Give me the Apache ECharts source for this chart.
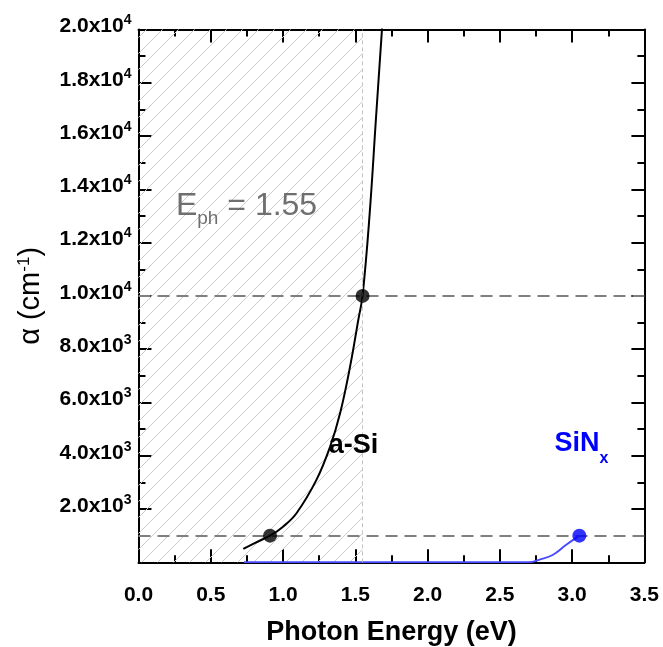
<!DOCTYPE html>
<html>
<head>
<meta charset="utf-8">
<script src="https://cdn.jsdelivr.net/npm/echarts@6/dist/echarts.min.js"></script>
<style>
  html, body { margin: 0; padding: 0; background: #fff; }
  #chart { width: 663px; height: 647px; }
</style>
</head>
<body>
<div id="chart"></div>
<script>
// a-Si absorption curve (eV, cm^-1)
const aSiEnergy = [0.725, 0.80, 0.91, 1.00, 1.093, 1.231, 1.326, 1.395, 1.464, 1.521, 1.55, 1.598, 1.644, 1.685];
const aSiAlpha = [500, 714, 1000, 1338, 1842, 3094, 4346, 5602, 7353, 9109, 10000, 12992, 16752, 20050];
// SiNx curve
const sinEnergy = [0.73, 2.70, 2.78, 2.865, 2.957, 3.05];
const sinAlpha = [0, 0, 110, 274, 650, 1000];
// highlighted points
const aSiDotEnergy = [0.91, 1.55];
const aSiDotAlpha = [1000, 10000];
const sinDotEnergy = [3.05];
const sinDotAlpha = [1000];
// reference lines
const refAlpha = [1000, 10000];
const photonEnergy = 1.55;

const chart = echarts.init(document.getElementById('chart'));

// hatch pattern for the E < Eph region
function hatch() {
  const s = 16;
  const c = document.createElement('canvas');
  c.width = s; c.height = s;
  const ctx = c.getContext('2d');
  ctx.strokeStyle = '#cbcbcb';
  ctx.lineWidth = 1;
  ctx.beginPath();
  ctx.moveTo(-2, s + 2); ctx.lineTo(s + 2, -2);
  ctx.moveTo(-2, 2); ctx.lineTo(2, -2);
  ctx.moveTo(s - 2, s + 2); ctx.lineTo(s + 2, s - 2);
  ctx.stroke();
  return c;
}

const font = 'Liberation Sans';
const bold = { fontFamily: font, fontWeight: 'bold', color: '#000' };
const axisLine = { show: true, onZero: false, lineStyle: { color: '#000', width: 2 } };
const tick = { show: true, inside: true, length: 13, lineStyle: { color: '#000', width: 2 } };
const minor = { show: true, splitNumber: 2, length: 7, lineStyle: { color: '#000', width: 2 } };

function yLabel(v) {
  if (v === 0) return '';
  const e = Math.floor(Math.log10(v) + 1e-9);
  return '{a|' + (v / Math.pow(10, e)).toFixed(1) + 'x10}{s|' + e + '}';
}

const xBase = {
  type: 'value', min: 0, max: 3.5, interval: 0.5,
  axisLine: axisLine, axisTick: tick, minorTick: minor,
  splitLine: { show: false }, minorSplitLine: { show: false }
};
const yBase = {
  type: 'value', min: 0, max: 20000, interval: 2000,
  axisLine: axisLine, axisTick: tick, minorTick: minor,
  splitLine: { show: false }, minorSplitLine: { show: false }
};

const option = {
  animation: false,
  backgroundColor: '#fff',
  grid: { left: 138.5, right: 18.6, top: 29.5, bottom: 84.7, outerBoundsMode: 'none' },
  xAxis: [
    Object.assign({}, xBase, {
      position: 'bottom',
      name: 'Photon Energy (eV)', nameLocation: 'middle', nameGap: 57, nameMoveOverlap: false,
      nameTextStyle: Object.assign({ fontSize: 27 }, bold),
      axisLabel: Object.assign({ fontSize: 21, margin: 22, formatter: v => v.toFixed(1) }, bold)
    }),
    Object.assign({}, xBase, { position: 'top', axisLabel: { show: false } })
  ],
  yAxis: [
    Object.assign({}, yBase, {
      position: 'left',
      name: '{a|α (cm}{s|-1}{a|)}', nameLocation: 'middle', nameGap: 93, nameMoveOverlap: false,
      nameTextStyle: {
        rich: {
          a: { fontFamily: font, fontSize: 29, lineHeight: 30, color: '#000' },
          s: { fontFamily: font, fontSize: 17, lineHeight: 17, verticalAlign: 'top', color: '#000' }
        }
      },
      axisLabel: {
        margin: 7, formatter: yLabel, showMaxLabel: true, padding: [0, 0, 6, 0],
        rich: {
          a: Object.assign({ fontSize: 21, lineHeight: 26 }, bold),
          s: Object.assign({ fontSize: 14, lineHeight: 14, verticalAlign: 'top' }, bold)
        }
      }
    }),
    Object.assign({}, yBase, { position: 'right', axisLabel: { show: false } })
  ],
  series: [
    {
      name: 'a-Si', type: 'line', xAxisIndex: 0, yAxisIndex: 0,
      data: aSiEnergy.map((x, i) => [x, aSiAlpha[i]]),
      smooth: 0.4, showSymbol: false, clip: true,
      lineStyle: { color: '#000', width: 2 },
      markArea: {
        silent: true,
        itemStyle: { color: { image: hatch(), repeat: 'repeat' }, borderWidth: 0 },
        data: [[{ xAxis: 0, yAxis: 0 }, { xAxis: photonEnergy, yAxis: 20000 }]]
      },
      markLine: {
        silent: true, symbol: ['none', 'none'], label: { show: false },
        lineStyle: { color: '#7f7f7f', width: 2, type: [12, 7] },
        data: refAlpha.map(v => ({ yAxis: v })).concat([
          { xAxis: photonEnergy, lineStyle: { color: '#c4c4c4', width: 1, type: [4, 3] } }
        ])
      },
      markPoint: {
        silent: true, symbol: 'circle', symbolSize: 0,
        data: [
          {
            coord: [0.259, 13960],
            label: {
              show: true, position: [0, 0], formatter: '{e|E}{p|ph}{e| = 1.55}',
              rich: {
                e: { fontFamily: font, fontSize: 32, lineHeight: 32, verticalAlign: 'top', color: '#6f6f6f' },
                p: { fontFamily: font, fontSize: 19, lineHeight: 19, verticalAlign: 'top', padding: [19, 0, 0, 0], color: '#6f6f6f' }
              }
            }
          },
          {
            coord: [1.316, 4898],
            label: { show: true, position: [0, 0], formatter: 'a-Si', fontSize: 27, lineHeight: 27, fontFamily: font, fontWeight: 'bold', color: '#000' }
          },
          {
            coord: [2.878, 4955],
            label: {
              show: true, position: [0, 0], formatter: '{m|SiN}{s|x}',
              rich: {
                m: { fontFamily: font, fontWeight: 'bold', fontSize: 27, lineHeight: 27, verticalAlign: 'top', color: '#0000ff' },
                s: { fontFamily: font, fontWeight: 'bold', fontSize: 16, lineHeight: 16, verticalAlign: 'top', padding: [20, 0, 0, 0], color: '#0000ff' }
              }
            }
          }
        ]
      }
    },
    {
      name: 'SiNx', type: 'line', xAxisIndex: 0, yAxisIndex: 0,
      data: sinEnergy.map((x, i) => [x, sinAlpha[i]]),
      smooth: 0.4, showSymbol: false,
      lineStyle: { color: '#4a4aff', width: 2 }
    },
    {
      type: 'scatter', z: 6, symbolSize: 14,
      itemStyle: { color: '#000' },
      data: aSiDotEnergy.map((x, i) => [x, aSiDotAlpha[i]])
    },
    {
      type: 'scatter', z: 6, symbolSize: 14,
      itemStyle: { color: '#0000ff' },
      data: sinDotEnergy.map((x, i) => [x, sinDotAlpha[i]])
    }
  ]
};

chart.setOption(option);
</script>
</body>
</html>
